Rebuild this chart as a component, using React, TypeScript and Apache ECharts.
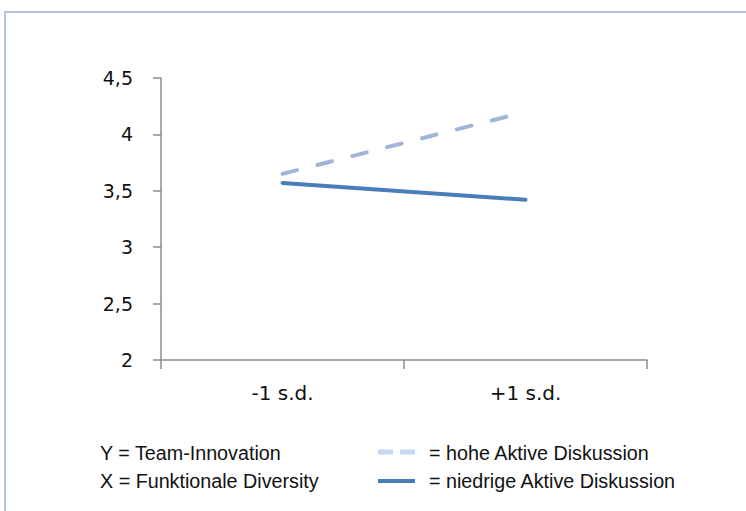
import React, { useEffect, useRef } from "react";
import * as echarts from "echarts";

const categories = ["-1 s.d.", "+1 s.d."];
const hoheAktiveDiskussion = [3.65, 4.2];
const niedrigeAktiveDiskussion = [3.57, 3.42];
const yMin = 2;
const yMax = 4.5;
const yInterval = 0.5;
const legendLeftTexts = ["Y = Team-Innovation", "X = Funktionale Diversity"];
const legendRightTexts = ["= hohe Aktive Diskussion", "= niedrige Aktive Diskussion"];

export default function App() {
  const ref = useRef<HTMLDivElement>(null);
  useEffect(() => {
    document.body.style.margin = "0";
    const chart = echarts.init(ref.current!, null, { renderer: "svg" });
    const axisColor = "#8c8c8c";
    const legendFont = "21px 'Liberation Sans', Arial, sans-serif";
    const sx = 0.94;
    const legendText = (text: string, x: number, y: number) => ({
      type: "text",
      x,
      y,
      scaleX: sx,
      style: { text, fill: "#111", font: legendFont, verticalAlign: "middle", align: "left" },
    });
    chart.setOption({
      animation: false,
      backgroundColor: "#ffffff",
      grid: { left: 161, right: 99, top: 78, bottom: 151, containLabel: false },
      xAxis: {
        type: "category",
        data: categories,
        boundaryGap: true,
        axisLine: { show: true, lineStyle: { color: axisColor, width: 1.5 } },
        axisTick: { show: true, length: 9, inside: false, alignWithLabel: false, lineStyle: { color: axisColor, width: 1.5 } },
        axisLabel: { margin: 23, color: "#111", fontSize: 20, fontFamily: "'DejaVu Sans', sans-serif" },
        splitLine: { show: false },
      },
      yAxis: {
        type: "value",
        min: yMin,
        max: yMax,
        interval: yInterval,
        axisLine: { show: true, lineStyle: { color: axisColor, width: 1.5 } },
        axisTick: { show: true, length: 8, inside: false, lineStyle: { color: axisColor, width: 1.5 } },
        axisLabel: {
          margin: 28,
          color: "#111",
          fontSize: 19,
          fontFamily: "'DejaVu Sans', sans-serif",
          formatter: (v: number) => String(v).replace(".", ","),
        },
        splitLine: { show: false },
      },
      series: [
        {
          name: "hohe Aktive Diskussion",
          type: "line",
          data: hoheAktiveDiskussion,
          symbol: "none",
          lineStyle: { color: "#a0b5d7", width: 4, type: [15, 21], cap: "round" },
          z: 2,
        },
        {
          name: "niedrige Aktive Diskussion",
          type: "line",
          data: niedrigeAktiveDiskussion,
          symbol: "none",
          lineStyle: { color: "#4a7ebb", width: 4, type: "solid", cap: "round" },
          z: 3,
        },
      ],
      graphic: [
        {
          type: "rect",
          shape: { x: 5, y: 12, width: 800, height: 600 },
          style: { fill: "none", stroke: "#b3c6e3", lineWidth: 2 },
          silent: true,
        },
        legendText(legendLeftTexts[0], 100, 453),
        legendText(legendLeftTexts[1], 100, 481),
        {
          type: "line",
          shape: { x1: 378, y1: 452, x2: 415, y2: 452 },
          style: { stroke: "#c6d9f1", lineWidth: 5, lineDash: [15, 7] },
        },
        {
          type: "line",
          shape: { x1: 378, y1: 481, x2: 415, y2: 481 },
          style: { stroke: "#4a7ebb", lineWidth: 4 },
        },
        legendText(legendRightTexts[0], 429, 453),
        legendText(legendRightTexts[1], 429, 481),
      ],
    });
    return () => chart.dispose();
  }, []);
  return (
    <div
      ref={ref}
      style={{ position: "absolute", left: 0, top: 0, width: 746, height: 511 }}
    />
  );
}
